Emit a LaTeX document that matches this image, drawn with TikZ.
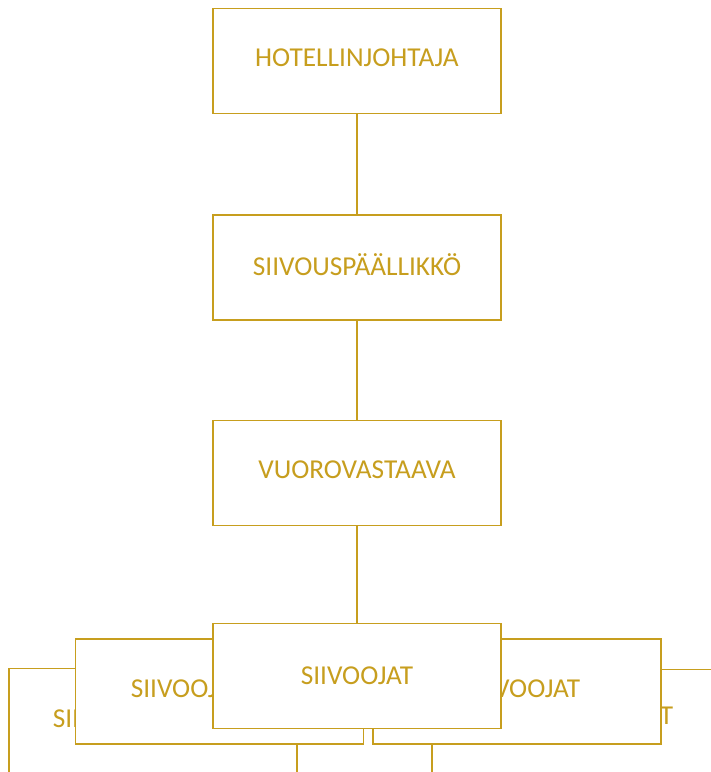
\documentclass[tikz,border=0pt]{standalone}
\usepackage{fontspec}
\setmainfont{Carlito}
\definecolor{gold}{RGB}{199,158,30}

\tikzset{
  box/.style={draw=gold, line width=1.4pt, fill=white, inner sep=0pt,
    minimum width=288pt, minimum height=105pt, text depth=6pt},
  lbl/.style={text=gold, inner sep=0pt, font=\fontsize{27.3}{32}\selectfont},
  link/.style={draw=gold, line width=1.4pt}
}

\begin{document}
\begin{tikzpicture}[x=1pt, y=-1pt]
    \clip (0, 0) rectangle (711, 772);
    \useasboundingbox (0, 0) rectangle (711, 772);
    % back row
    \node[box] (g) at (153, 721) {};
    \node[lbl] (gt) at (109, 719) {SIIVOOJAT};
    \node[box] (h) at (576, 722) {};
    \node[lbl] (ht) at (617, 716) {SIIVOOJAT};
    % middle row
    \node[box] (e) at (219.5, 691.5) {};
    \node[lbl] (et) at (187, 689) {SIIVOOJAT};
    \node[box] (f) at (517, 691.5) {};
    \node[lbl] (ft) at (524, 689) {SIIVOOJAT};
    % main column
    \node[box, lbl] (a) at (357, 61) {HOTELLINJOHTAJA};
    \node[box, lbl] (b) at (357, 267.5) {SIIVOUSPÄÄLLIKKÖ};
    \node[box, lbl] (c) at (357, 473) {VUOROVASTAAVA};
    \node[box, lbl, text depth=0pt] (d) at (357, 676) {SIIVOOJAT};
    \draw[link] (a) to (b);
    \draw[link] (b) to (c);
    \draw[link] (c) to (d);
\end{tikzpicture}
\end{document}
